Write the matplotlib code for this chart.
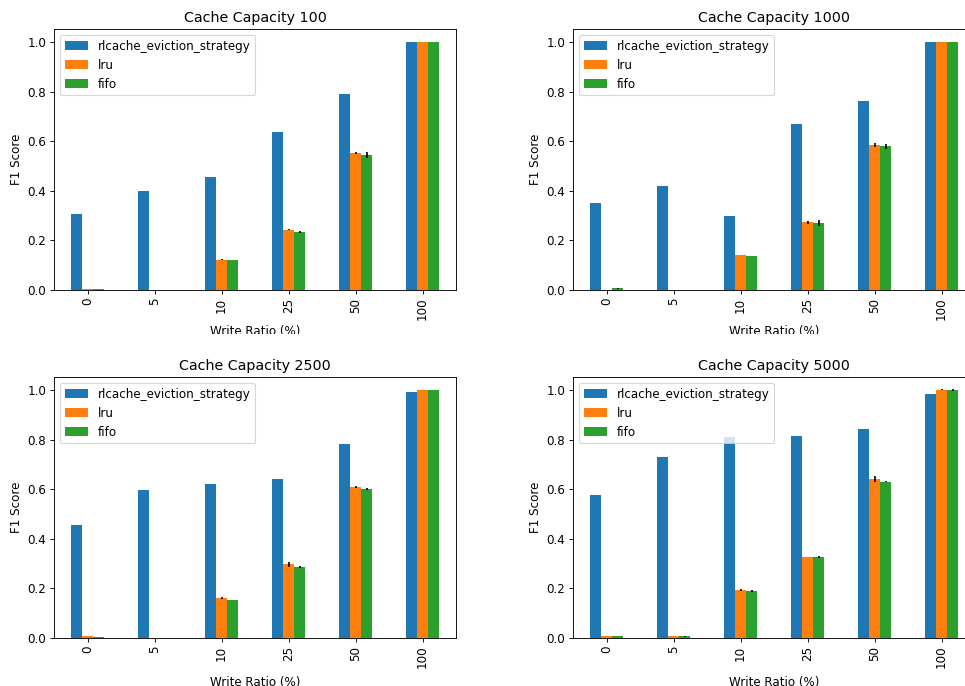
import matplotlib
matplotlib.use('Agg')
import matplotlib.pyplot as plt
import numpy as np
from matplotlib.transforms import Bbox, TransformedBbox

# ---- data ----
write_ratios = ['0', '5', '10', '25', '50', '100']
strategies = ['rlcache_eviction_strategy', 'lru', 'fifo']
capacities = [100, 1000, 2500, 5000]

rl_100 = [0.306, 0.399, 0.456, 0.637, 0.790, 1.0]
lru_100 = [0.003, 0.002, 0.121, 0.242, 0.552, 1.0]
fifo_100 = [0.003, 0.002, 0.121, 0.234, 0.544, 1.0]
lru_err_100 = [0.0, 0.0, 0.002, 0.002, 0.005, 0.0]
fifo_err_100 = [0.0, 0.0, 0.001, 0.004, 0.012, 0.0]

rl_1000 = [0.351, 0.419, 0.298, 0.669, 0.762, 1.0]
lru_1000 = [0.001, 0.001, 0.141, 0.274, 0.585, 1.0]
fifo_1000 = [0.007, 0.001, 0.137, 0.270, 0.580, 1.0]
lru_err_1000 = [0.0, 0.0, 0.001, 0.006, 0.008, 0.0]
fifo_err_1000 = [0.003, 0.0, 0.001, 0.012, 0.010, 0.0]

rl_2500 = [0.456, 0.597, 0.621, 0.641, 0.782, 0.992]
lru_2500 = [0.008, 0.002, 0.161, 0.298, 0.609, 1.0]
fifo_2500 = [0.004, 0.002, 0.153, 0.286, 0.601, 1.0]
lru_err_2500 = [0.001, 0.0, 0.003, 0.010, 0.003, 0.0]
fifo_err_2500 = [0.0, 0.0, 0.001, 0.003, 0.003, 0.0]

rl_5000 = [0.577, 0.730, 0.810, 0.814, 0.843, 0.984]
lru_5000 = [0.008, 0.008, 0.194, 0.327, 0.641, 1.0]
fifo_5000 = [0.008, 0.007, 0.190, 0.327, 0.629, 1.0]
lru_err_5000 = [0.001, 0.001, 0.003, 0.001, 0.012, 0.002]
fifo_err_5000 = [0.001, 0.001, 0.004, 0.005, 0.002, 0.003]

panels = [
    (rl_100, lru_100, fifo_100, lru_err_100, fifo_err_100),
    (rl_1000, lru_1000, fifo_1000, lru_err_1000, fifo_err_1000),
    (rl_2500, lru_2500, fifo_2500, lru_err_2500, fifo_err_2500),
    (rl_5000, lru_5000, fifo_5000, lru_err_5000, fifo_err_5000),
]
colors = ['#1f77b4', '#ff7f0e', '#2ca02c']

plt.rcParams['font.size'] = 10.7

W, H, DPI = 965, 686, 80
fig = plt.figure(figsize=(W / DPI, H / DPI), dpi=DPI)

# axes boxes in pixels: left, top, right, bottom
boxes = [(54, 29, 456, 290), (573, 29, 975, 290),
         (54, 377, 456, 638), (573, 377, 975, 638)]

x = np.arange(len(write_ratios))
w = 0.5 / 3
for k, (cap, vals, box) in enumerate(zip(capacities, panels, boxes)):
    l, t, r, b = box
    ax = fig.add_axes([l / W, (H - b) / H, (r - l) / W, (b - t) / H])
    rl, lru, fifo, lru_err, fifo_err = vals
    series = [rl, lru, fifo]
    errs = [None, lru_err, fifo_err]
    for j, (name, s, e) in enumerate(zip(strategies, series, errs)):
        ax.bar(x + (j - 1) * w, s, w, yerr=e, color=colors[j], label=name,
               ecolor='k')
    ax.set_xticks(x)
    ax.set_xticklabels(write_ratios, rotation=90)
    ax.set_xlim(-0.5, len(x) - 0.5)
    ax.set_ylim(0, 1.052)
    ax.set_title('Cache Capacity %d' % cap)
    ax.set_ylabel('F1 Score')
    ax.legend(loc='upper left')
    if k < 2:
        lab = ax.set_xlabel('Write Ratio (%)', labelpad=4.5)
        # top row labels are cut off in the reference
        clip = TransformedBbox(Bbox([[0, (H - 334) / H], [1, 1]]), fig.transFigure)
        lab.set_clip_box(clip)
        lab.set_clip_on(True)
    else:
        ax.set_xlabel('Write Ratio (%)', labelpad=6.5)

fig.savefig('out.png', dpi=DPI)
